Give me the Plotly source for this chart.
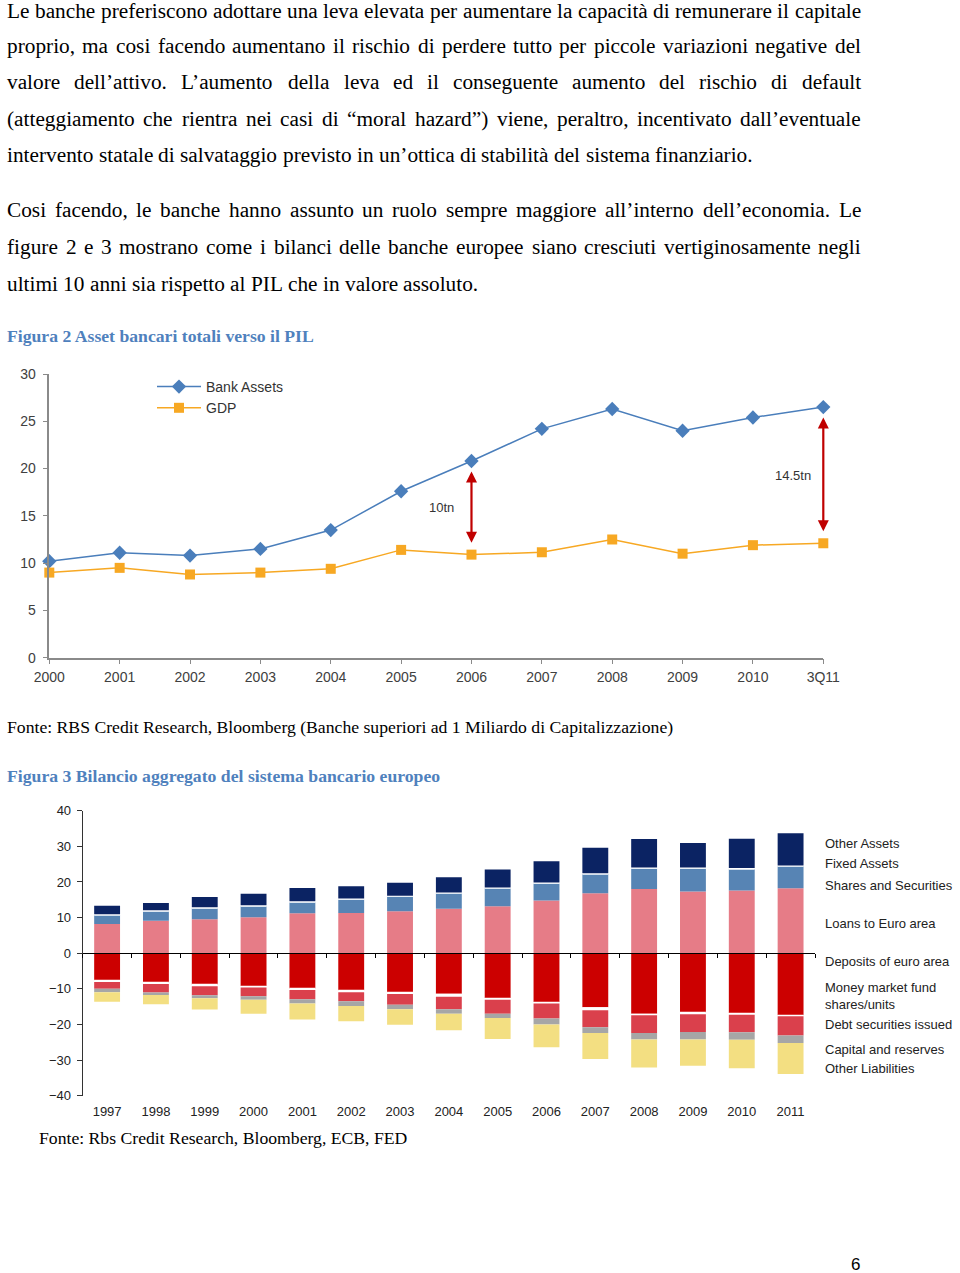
import plotly.graph_objects as go

W, H = 960, 1273

# ---------------- data: Figure 2 ----------------
years1 = ["2000", "2001", "2002", "2003", "2004", "2005", "2006", "2007", "2008", "2009", "2010", "3Q11"]
bank_assets = [10.2, 11.1, 10.8, 11.5, 13.5, 17.6, 20.8, 24.2, 26.3, 24.0, 25.4, 26.5]
gdp = [9.0, 9.5, 8.8, 9.0, 9.4, 11.4, 10.9, 11.15, 12.5, 11.0, 11.9, 12.1]
gap_labels = {"2006": "10tn", "3Q11": "14.5tn"}

# ---------------- data: Figure 3 ----------------
years2 = ["1997", "1998", "1999", "2000", "2001", "2002", "2003", "2004",
          "2005", "2006", "2007", "2008", "2009", "2010", "2011"]
loans = [8.2, 9.1, 9.5, 10.1, 11.2, 11.3, 11.8, 12.5, 13.2, 14.8, 16.8, 18.0, 17.3, 17.6, 18.2]
shares = [2.5, 2.7, 3.15, 3.1, 3.1, 3.8, 4.1, 4.3, 5.0, 4.8, 5.4, 5.8, 6.5, 6.1, 6.2]
fixed_assets = [0.25, 0.25, 0.25, 0.25, 0.25, 0.25, 0.25, 0.25, 0.25, 0.25, 0.25, 0.25, 0.25, 0.25, 0.25]
other_assets = [2.35, 2.05, 2.85, 3.25, 3.75, 3.45, 3.65, 4.25, 5.05, 5.95, 7.15, 8.0, 6.85, 8.15, 9.05]
deposits = [-7.6, -8.25, -8.8, -9.2, -9.9, -10.4, -11.0, -11.4, -12.6, -13.7, -15.2, -17.0, -16.7, -16.8, -17.4]
mmf = [-0.45, -0.4, -0.45, -0.4, -0.45, -0.55, -0.45, -0.8, -0.45, -0.45, -0.8, -0.45, -0.45, -0.45, -0.3]
debt_sec = [-1.95, -2.4, -2.55, -2.5, -2.55, -2.55, -3.05, -3.55, -3.95, -4.15, -4.8, -4.95, -4.95, -4.95, -5.4]
capital = [-0.95, -0.65, -0.85, -1.0, -1.25, -1.3, -1.25, -1.25, -1.2, -1.7, -1.6, -1.8, -2.1, -2.1, -2.1]
other_liab = [-2.7, -2.6, -3.15, -3.9, -4.45, -4.3, -4.35, -4.65, -5.9, -6.4, -7.3, -7.9, -7.4, -8.0, -8.7]

# ---------------- page text ----------------
para1 = [
    "Le banche preferiscono adottare una leva elevata per aumentare la capacità di remunerare il capitale",
    "proprio, ma cosi facendo aumentano il rischio di perdere tutto per piccole variazioni negative del",
    "valore dell’attivo. L’aumento della leva ed il conseguente aumento del rischio di default",
    "(atteggiamento che rientra nei casi di “moral hazard”) viene, peraltro, incentivato dall’eventuale",
    "intervento statale di salvataggio previsto in un’ottica di stabilità del sistema finanziario.",
]
para2 = [
    "Cosi facendo, le banche hanno assunto un ruolo sempre maggiore all’interno dell’economia. Le",
    "figure 2 e 3 mostrano come i bilanci delle banche europee siano cresciuti vertiginosamente negli",
    "ultimi 10 anni sia rispetto al PIL che in valore assoluto.",
]

# Times (Liberation Serif) advance widths, per 1000 em
TR = {' ': 250, '!': 333, '"': 408, "'": 180, '(': 333, ')': 333, ',': 250, '-': 333, '.': 250,
      ':': 278, ';': 278, '’': 333, '‘': 333, '“': 444, '”': 444,
      'A': 722, 'B': 667, 'C': 667, 'D': 722, 'E': 611, 'F': 556, 'G': 722, 'H': 722, 'I': 333,
      'J': 389, 'K': 722, 'L': 611, 'M': 889, 'N': 722, 'O': 722, 'P': 556, 'Q': 722, 'R': 667,
      'S': 556, 'T': 611, 'U': 722, 'V': 722, 'W': 944, 'X': 722, 'Y': 722, 'Z': 611,
      'a': 444, 'b': 500, 'c': 444, 'd': 500, 'e': 444, 'f': 333, 'g': 500, 'h': 500, 'i': 278,
      'j': 278, 'k': 500, 'l': 278, 'm': 778, 'n': 500, 'o': 500, 'p': 500, 'q': 500, 'r': 333,
      's': 389, 't': 278, 'u': 500, 'v': 500, 'w': 722, 'x': 500, 'y': 500, 'z': 444,
      'à': 444, 'è': 444, 'é': 444, 'ì': 278, 'ò': 500, 'ù': 500}
TB = {' ': 250, 'A': 722, 'B': 667, 'F': 611, 'I': 389, 'L': 667, 'P': 611,
      'a': 500, 'b': 556, 'c': 444, 'd': 556, 'e': 444, 'g': 500, 'i': 278, 'l': 278, 'm': 833,
      'n': 556, 'o': 500, 'p': 556, 'r': 444, 's': 389, 't': 333, 'u': 556, 'v': 500, 'z': 444}


def em(s, bold=False):
    tab = TB if bold else TR
    return sum(tab.get(c, 500) for c in s) / 1000.0


def px(x):
    return x / W


def py(y):
    return 1 - y / H


SERIF = "Liberation Serif"
SANS = "Liberation Sans"
annotations = []

BODY_FS = 21.3
LEFT, RIGHT = 6, 860


def add_line(text, yc, justify):
    words = text.split(" ")
    wsum = sum(em(w) for w in words) * BODY_FS
    if justify and len(words) > 1:
        gap = (RIGHT - LEFT - wsum) / (len(words) - 1)
    else:
        gap = em(" ") * BODY_FS
    x = LEFT
    for w in words:
        annotations.append(dict(text=w, x=px(x), y=py(yc), xref="paper", yref="paper",
                                xanchor="left", yanchor="middle", showarrow=False, borderpad=0,
                                font=dict(family=SERIF, size=BODY_FS, color="#000000")))
        x += em(w) * BODY_FS + gap


for i, (line, yc) in enumerate(zip(para1, [10.5, 46.0, 82.3, 118.8, 155.3])):
    add_line(line, yc, i < len(para1) - 1)
for i, (line, yc) in enumerate(zip(para2, [210.5, 247.0, 284.0])):
    add_line(line, yc, i < len(para2) - 1)


def add_fit(text, x0, x1, yc, bold=False, color="#000000"):
    fs = (x1 - x0) / em(text, bold)
    t = "<b>%s</b>" % text if bold else text
    annotations.append(dict(text=t, x=px(x0), y=py(yc), xref="paper", yref="paper",
                            xanchor="left", yanchor="middle", showarrow=False, borderpad=0,
                            font=dict(family=SERIF, size=fs, color=color)))


CAP = "#4F81BD"
add_fit("Figura 2 Asset bancari totali verso il PIL", 6, 314, 335.5, bold=True, color=CAP)
add_fit("Fonte: RBS Credit Research, Bloomberg (Banche superiori ad 1 Miliardo di Capitalizzazione)",
        6, 673, 727)
add_fit("Figura 3 Bilancio aggregato del sistema bancario europeo", 6, 440, 776, bold=True, color=CAP)
add_fit("Fonte: Rbs Credit Research, Bloomberg, ECB, FED", 38, 407, 1138)

annotations.append(dict(text="6", x=px(855), y=py(1264), xref="paper", yref="paper",
                        xanchor="center", yanchor="middle", showarrow=False,
                        font=dict(family=SANS, size=17, color="#000000")))

# ---------------- figure ----------------
fig = go.Figure()

fig.add_trace(go.Scatter(x=years1, y=bank_assets, name="Bank Assets", mode="lines+markers",
                         line=dict(color="#4A7EBB", width=1.5),
                         marker=dict(symbol="diamond", size=11, color="#4A7EBB"),
                         cliponaxis=False, xaxis="x", yaxis="y"))
fig.add_trace(go.Scatter(x=years1, y=gdp, name="GDP", mode="lines+markers",
                         line=dict(color="#F7A823", width=1.5),
                         marker=dict(symbol="square", size=10, color="#F7A823"),
                         cliponaxis=False, xaxis="x", yaxis="y"))

GAP = 1.1
for cat, lab in gap_labels.items():
    i = years1.index(cat)
    top = bank_assets[i] - GAP
    bot = gdp[i] + GAP
    annotations.append(dict(x=i, y=top, ax=i, ay=bot, xref="x", yref="y", axref="x", ayref="y",
                            text="", showarrow=True, arrowhead=2, arrowside="end+start",
                            arrowsize=1, arrowwidth=2.2, arrowcolor="#C00000",
                            standoff=0, startstandoff=0))
    annotations.append(dict(x=i - 0.43, y=(top + bot) / 2, xref="x", yref="y", text=lab,
                            showarrow=False, xanchor="center", yanchor="middle",
                            font=dict(family=SANS, size=13, color="#333333")))

bar_specs = [
    ("Loans to Euro area", loans, "#E67C87"),
    ("Shares and Securities", shares, "#5784B4"),
    ("Fixed Assets", fixed_assets, "#FFFFFF"),
    ("Other Assets", other_assets, "#0B2363"),
    ("Deposits of euro area", deposits, "#CC0000"),
    ("Money market fund shares/units", mmf, "#FFFFFF"),
    ("Debt securities issued", debt_sec, "#DA404C"),
    ("Capital and reserves", capital, "#A6A6A6"),
    ("Other Liabilities", other_liab, "#F3DF82"),
]
for name, vals, col in bar_specs:
    fig.add_trace(go.Bar(x=years2, y=vals, name=name, marker=dict(color=col, line=dict(width=0)),
                         showlegend=False, xaxis="x2", yaxis="y2"))

# helper (invisible) trace for the zero-line axis with category boundary ticks
fig.add_trace(go.Scatter(x=years2, y=[0] * len(years2), mode="markers", marker=dict(opacity=0),
                         hoverinfo="skip", showlegend=False, xaxis="x3", yaxis="y2"))

legend_labels = [
    ("Other Assets", 843), ("Fixed Assets", 863), ("Shares and Securities", 885),
    ("Loans to Euro area", 923), ("Deposits of euro area", 961),
    ("Money market fund<br>shares/units", 996), ("Debt securities issued", 1024),
    ("Capital and reserves", 1049), ("Other Liabilities", 1068),
]
for txt, yc in legend_labels:
    annotations.append(dict(text=txt, x=px(824), y=py(yc), xref="paper", yref="paper",
                            xanchor="left", yanchor="middle", showarrow=False, align="left",
                            borderpad=0,
                            font=dict(family=SANS, size=13, color="#222222")))

AX1 = "#8A8A8A"
fig.update_layout(
    width=W, height=H, margin=dict(l=0, r=0, t=0, b=0, pad=0, autoexpand=False),
    paper_bgcolor="white", plot_bgcolor="white",
    barmode="relative", bargap=0.47,
    showlegend=True,
    legend=dict(x=px(152), y=py(371), xanchor="left", yanchor="top",
                bgcolor="rgba(0,0,0,0)", itemwidth=44, tracegroupgap=0,
                font=dict(family=SANS, size=14, color="#333333")),
    xaxis=dict(domain=[px(49.3), px(823.3)], anchor="y", type="category", range=[0, 11],
               automargin=False,
               showline=True, linecolor=AX1, linewidth=1.5, ticks="outside", ticklen=5,
               tickcolor=AX1, showgrid=False, zeroline=False, ticklabelstandoff=1,
               tickfont=dict(family=SANS, size=14, color="#404040")),
    yaxis=dict(domain=[py(657.7), py(374)], anchor="x", range=[0, 30], dtick=5,
               automargin=False,
               showline=True, linecolor=AX1, linewidth=1.5, ticks="outside", ticklen=5,
               tickcolor=AX1, showgrid=False, zeroline=False, ticklabelstandoff=4,
               tickfont=dict(family=SANS, size=14, color="#404040")),
    xaxis2=dict(domain=[px(82.7), px(815)], anchor="y2", type="category", range=[-0.5, 14.5],
                automargin=False,
                showline=False, ticks="", showgrid=False, zeroline=False, ticklabelstandoff=6,
                tickfont=dict(family=SANS, size=13, color="#222222")),
    xaxis3=dict(overlaying="x2", anchor="free", position=py(953.2), type="category",
                automargin=False,
                range=[-0.5, 14.5], showline=True, linecolor="#000000", linewidth=1,
                ticks="outside", tickson="boundaries", ticklen=4, tickcolor="#000000",
                showticklabels=False, showgrid=False, zeroline=False),
    yaxis2=dict(domain=[py(1095.7), py(810.7)], anchor="x2", range=[-40, 40], dtick=10,
                automargin=False,
                showline=True, linecolor="#333333", linewidth=1, ticks="outside", ticklen=5,
                tickcolor="#333333", showgrid=False, zeroline=False, ticklabelstandoff=3,
                tickfont=dict(family=SANS, size=13, color="#222222")),
    annotations=annotations,
)

fig.write_html("out.html")
